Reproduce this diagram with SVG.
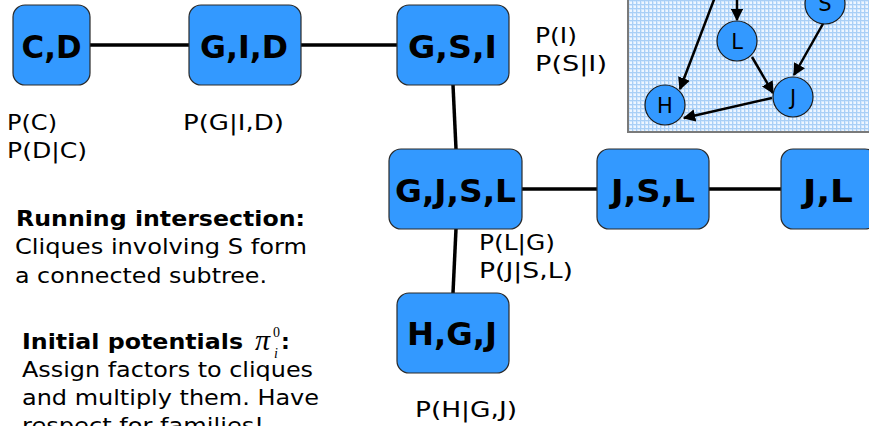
<svg xmlns="http://www.w3.org/2000/svg" width="869" height="426" viewBox="0 0 869 426">
  <style>
    .clique rect { fill: #3399ff; stroke: #2a2a2a; stroke-width: 1.2; }
    .clique text { font-family: "DejaVu Sans", Verdana, sans-serif; font-weight: bold; font-size: 31.5px; fill: #000; text-anchor: middle; }
    .edge { stroke: #000; stroke-width: 3.5; fill: none; }
    .factor { font-family: "DejaVu Sans", Verdana, sans-serif; font-size: 22px; fill: #000; }
    .note { font-family: "DejaVu Sans", Verdana, sans-serif; font-size: 22px; fill: #000; }
    .note .b { font-weight: bold; }
    .math { font-family: "Liberation Serif", "Times New Roman", serif; }
    .bn circle { fill: #3399ff; stroke: #1a1a1a; stroke-width: 1.2; }
    .bn text { font-family: "DejaVu Sans", Verdana, sans-serif; font-size: 21px; fill: #000; text-anchor: middle; }
    .arc { stroke: #000; stroke-width: 2.5; fill: none; marker-end: url(#head); }
  </style>
  <defs>
    <pattern id="grid" width="4" height="4" patternUnits="userSpaceOnUse">
      <rect width="4" height="4" fill="#d3e7fd"/>
      <rect x="0" y="0" width="4" height="1" fill="#a9cff6"/>
      <rect x="0" y="0" width="1" height="4" fill="#a9cff6"/>
      <rect x="2" y="2" width="2" height="2" fill="#eef6ff"/>
    </pattern>
    <marker id="head" viewBox="0 0 10 10" refX="9" refY="5" markerWidth="5" markerHeight="5" orient="auto" markerUnits="strokeWidth">
      <path d="M0,0 L10,5 L0,10 z" fill="#000"/>
    </marker>
  </defs>

  <rect width="869" height="426" fill="#ffffff"/>

  <!-- Bayesian network inset (top right) -->
  <g id="bn-inset" class="bn">
    <rect x="628" y="-3" width="250" height="135" fill="url(#grid)" stroke="#7a7a7a" stroke-width="2"/>
    <line class="arc" x1="737" y1="-4" x2="737" y2="20"/>
    <line class="arc" x1="715" y1="-3" x2="680" y2="89"/>
    <line class="arc" x1="824" y1="22" x2="794" y2="75"/>
    <line class="arc" x1="752" y1="57" x2="773" y2="93"/>
    <line class="arc" x1="772" y1="98" x2="684" y2="118"/>
    <g id="bn-L"><circle cx="737" cy="41" r="20"/><text x="737" y="48.5">L</text></g>
    <g id="bn-S"><circle cx="825" cy="4" r="20"/><text x="825" y="11">S</text></g>
    <g id="bn-J"><circle cx="793" cy="97" r="20"/><text x="793" y="104.5">J</text></g>
    <g id="bn-H"><circle cx="665" cy="105" r="20"/><text x="665" y="112.5">H</text></g>
  </g>

  <!-- clique tree edges -->
  <g id="connectors">
    <line class="edge" x1="90" y1="45" x2="189" y2="45"/>
    <line class="edge" x1="301" y1="45" x2="397" y2="45"/>
    <line class="edge" x1="453" y1="85" x2="456" y2="149"/>
    <line class="edge" x1="522" y1="189" x2="597" y2="189"/>
    <line class="edge" x1="709" y1="189" x2="781" y2="189"/>
    <line class="edge" x1="456" y1="229" x2="453" y2="293"/>
  </g>

  <!-- cliques -->
  <g id="clique-CD" class="clique">
    <rect x="13" y="5" width="77" height="80" rx="12"/>
    <text x="51.5" y="58" textLength="60" lengthAdjust="spacingAndGlyphs">C,D</text>
  </g>
  <g id="clique-GID" class="clique">
    <rect x="189" y="5" width="112" height="80" rx="12"/>
    <text x="244" y="58" textLength="88" lengthAdjust="spacingAndGlyphs">G,I,D</text>
  </g>
  <g id="clique-GSI" class="clique">
    <rect x="397" y="5" width="112" height="80" rx="12"/>
    <text x="452.5" y="58" textLength="89" lengthAdjust="spacingAndGlyphs">G,S,I</text>
  </g>
  <g id="clique-GJSL" class="clique">
    <rect x="389" y="149" width="133" height="80" rx="12"/>
    <text x="455.5" y="202" textLength="121" lengthAdjust="spacingAndGlyphs">G,J,S,L</text>
  </g>
  <g id="clique-JSL" class="clique">
    <rect x="597" y="149" width="112" height="80" rx="12"/>
    <text x="653" y="202" textLength="84" lengthAdjust="spacingAndGlyphs">J,S,L</text>
  </g>
  <g id="clique-JL" class="clique">
    <rect x="781" y="149" width="96" height="80" rx="12"/>
    <text x="828" y="202" textLength="50" lengthAdjust="spacingAndGlyphs">J,L</text>
  </g>
  <g id="clique-HGJ" class="clique">
    <rect x="397" y="293" width="112" height="80" rx="12"/>
    <text x="452" y="345" textLength="90" lengthAdjust="spacingAndGlyphs">H,G,J</text>
  </g>

  <!-- factor assignments -->
  <g id="factors" class="factor">
    <text x="7" y="130" textLength="50" lengthAdjust="spacingAndGlyphs">P(C)</text>
    <text x="7" y="158" textLength="80" lengthAdjust="spacingAndGlyphs">P(D|C)</text>
    <text x="183" y="130" textLength="101" lengthAdjust="spacingAndGlyphs">P(G|I,D)</text>
    <text x="535" y="43" textLength="42" lengthAdjust="spacingAndGlyphs">P(I)</text>
    <text x="535" y="71" textLength="72" lengthAdjust="spacingAndGlyphs">P(S|I)</text>
    <text x="479" y="250" textLength="76" lengthAdjust="spacingAndGlyphs">P(L|G)</text>
    <text x="479" y="278" textLength="94" lengthAdjust="spacingAndGlyphs">P(J|S,L)</text>
    <text x="415" y="417" textLength="102" lengthAdjust="spacingAndGlyphs">P(H|G,J)</text>
  </g>

  <!-- notes -->
  <g id="notes" class="note">
    <text class="b" x="16" y="226" textLength="289" lengthAdjust="spacingAndGlyphs">Running intersection:</text>
    <text x="15" y="254" textLength="292" lengthAdjust="spacingAndGlyphs">Cliques involving S form</text>
    <text x="15" y="283" textLength="252" lengthAdjust="spacingAndGlyphs">a connected subtree.</text>
    <text class="b" x="22" y="349" textLength="221" lengthAdjust="spacingAndGlyphs">Initial potentials</text>
    <text class="math" x="255" y="350" font-style="italic" font-size="30">π</text>
    <text class="math" x="273" y="337" font-size="14">0</text>
    <text class="math" x="274" y="358" font-style="italic" font-size="14">i</text>
    <text class="b" x="281" y="349">:</text>
    <text x="22" y="377" textLength="291" lengthAdjust="spacingAndGlyphs">Assign factors to cliques</text>
    <text x="22" y="405" textLength="297" lengthAdjust="spacingAndGlyphs">and multiply them. Have</text>
    <text x="22" y="433" textLength="242" lengthAdjust="spacingAndGlyphs">respect for families!</text>
  </g>
</svg>
